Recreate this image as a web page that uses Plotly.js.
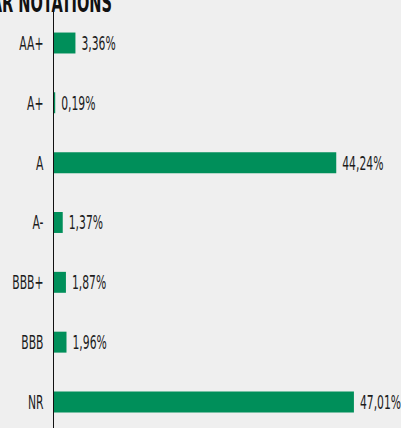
<!DOCTYPE html>
<html><head><meta charset="utf-8">
<script src="https://cdn.plot.ly/plotly-3.0.1.min.js"></script>
<style>html,body{margin:0;padding:0;background:#efefef;}</style>
</head><body>
<div id="chart" style="width:401px;height:428px;"></div>
<script>
const categories = ["AA+", "A+", "A", "A-", "BBB+", "BBB", "NR"];
const values = [3.36, 0.19, 44.24, 1.37, 1.87, 1.96, 47.01];
const titleText = "PAR NOTATIONS";

const font = "'DejaVu Sans Condensed', 'DejaVu Sans', sans-serif";
const K = 0.6; // horizontal compression to mimic the narrow display face

const gd = document.getElementById("chart");
Plotly.newPlot(gd, [{
  type: "bar",
  orientation: "h",
  y: categories,
  x: values,
  width: 0.35,
  marker: {color: "#008f5a"},
  texttemplate: "%{x:.2f}%",
  textposition: "outside",
  constraintext: "none",
  cliponaxis: false,
  textfont: {family: font, size: 20, color: "#1c1c1c", stretch: "condensed"},
  hoverinfo: "none"
}], {
  width: 401, height: 428,
  paper_bgcolor: "#efefef", plot_bgcolor: "#efefef",
  separators: ", ",
  margin: {l: 54, r: 28, t: 11, b: 0, pad: 0},
  showlegend: false,
  title: {text: titleText, font: {family: font, size: 27, color: "#111", weight: "bold", stretch: "condensed"},
          xref: "container", yref: "container", x: 112/401, xanchor: "right",
          y: 0.972, yanchor: "bottom"},
  xaxis: {range: [0, 50], showgrid: false, zeroline: false, showticklabels: false, showline: false, fixedrange: true},
  yaxis: {type: "category", range: [6.435, -0.535], showgrid: false, zeroline: false,
          showline: true, linecolor: "#111", linewidth: 1.5, ticks: "", ticklabelstandoff: 5,
          tickfont: {family: font, size: 20, color: "#1c1c1c", stretch: "condensed"}}
}, {displayModeBar: false, staticPlot: true}).then(() => {
  const squeeze = (t) => {
    const w = t.getComputedTextLength();
    t.setAttribute("textLength", (w * K).toFixed(2));
    t.setAttribute("lengthAdjust", "spacingAndGlyphs");
  };
  gd.querySelectorAll(".barlayer text").forEach(t => {
    const b = t.getBBox();
    squeeze(t);
    t.setAttribute("text-anchor", "start");
    t.style.textAnchor = "start";
    t.setAttribute("x", (b.x + 3).toFixed(2));
  });
  gd.querySelectorAll(".ytick text, .gtitle").forEach(squeeze);
});
</script>
</body></html>
